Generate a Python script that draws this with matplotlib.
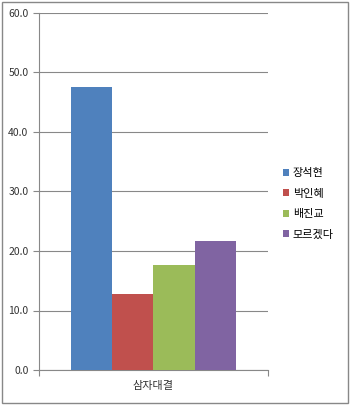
import numpy as np
import matplotlib
matplotlib.use("Agg")
import matplotlib.pyplot as plt
from matplotlib.patches import Rectangle

plt.rcParams['font.family'] = ['Noto Sans CJK KR', 'DejaVu Sans']

# data
category = '삼자대결'
names = ['장석현', '박인혜', '배진교', '모르겠다']
values = [47.5, 12.8, 17.7, 21.7]
colors = ['#4F81BD', '#C0504D', '#9BBB59', '#8064A2']
yticks = [0, 10, 20, 30, 40, 50, 60]

fig = plt.figure(figsize=(3.5, 4.05), dpi=100)
ax = fig.add_axes([0.111, 0.0864, 0.655, 0.8816])

width = 0.18
offsets = (np.arange(len(names)) - (len(names) - 1) / 2) * width
for off, v, c, n in zip(offsets, values, colors, names):
    ax.bar(off, v, width=width, color=c, label=n, zorder=3)

ax.set_xlim(-0.5, 0.5)
ax.set_ylim(0, 60)
ax.set_yticks(yticks)
ax.set_yticklabels(['%.1f' % t for t in yticks], fontsize=7.5, color='#333333')
ax.set_xticks([-0.5, 0.5])
ax.set_xticklabels(['', ''])
ax.text(0, -0.045, category, transform=ax.get_xaxis_transform(),
        ha='center', va='center', fontsize=8, color='#333333')
ax.grid(axis='y', color='#888888', linewidth=0.8, zorder=0)
for s in ['top', 'right']:
    ax.spines[s].set_visible(False)
for s in ['left', 'bottom']:
    ax.spines[s].set_color('#888888')
ax.tick_params(axis='both', colors='#888888', length=4, labelcolor='#333333')

ax.legend(loc='center left', bbox_to_anchor=(1.02, 0.465), frameon=False,
          fontsize=8, handlelength=0.6, handleheight=0.6, handletextpad=0.3,
          labelspacing=0.95)

fig.patches.append(Rectangle((0.005, 0.005), 0.99, 0.99, transform=fig.transFigure,
                             fill=False, edgecolor='#888888', linewidth=1))

fig.savefig('out.png', dpi=100)
